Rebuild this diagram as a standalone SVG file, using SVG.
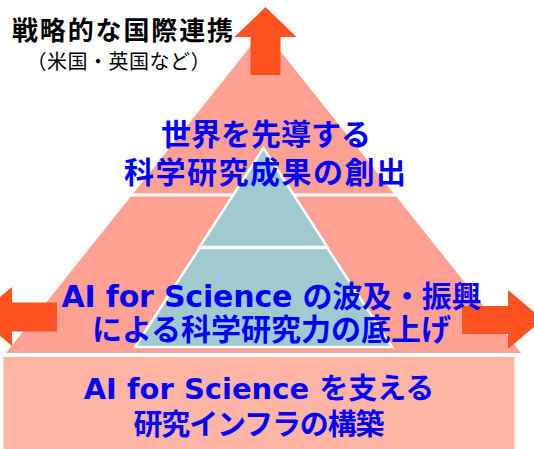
<svg xmlns="http://www.w3.org/2000/svg" width="534" height="449" viewBox="0 0 534 449">
<style>
.t{font-family:'DejaVu Sans','Noto Sans CJK JP',sans-serif;font-weight:bold;fill:#0000FF;text-anchor:middle}
.j{font-family:'Noto Sans CJK JP',sans-serif;fill:#000;text-anchor:middle}
.arrow{fill:#FF5221}
.teal{fill:#A1CAD0;stroke:#fff;stroke-width:2.5;stroke-linejoin:miter}
</style>
<rect width="534" height="449" fill="#fff"/>
<g id="pyramid-outer">
<polygon points="263.5,30 6,353 521,353" fill="#FFA192"/>
<line x1="100" y1="195" x2="430" y2="195" stroke="#fff" stroke-width="3"/>
</g>
<g id="pyramid-inner">
<polygon class="teal" points="263.5,148 199.6,247 327.4,247"/>
<polygon class="teal" points="199.6,248 327.4,248 392,347 135,347"/>
</g>
<g id="base">
<rect x="3.5" y="357" width="511" height="92" fill="#FFB5A3"/>
</g>
<g id="connectors">
<polygon class="arrow" points="265.5,7 296.5,37 280.5,37 280.5,75 250.5,75 250.5,37 234.5,37"/>
<polygon class="arrow" points="-23,316.5 12,287 12,302.5 57,302.5 57,331.5 12,331.5 12,346"/>
<polygon class="arrow" points="543,319.5 508,290 508,306 462,306 462,334 508,334 508,349"/>
</g>
<g id="label-intl">
<text class="j" x="122.5" y="40" font-size="26" font-weight="bold" textLength="221" lengthAdjust="spacing">戦略的な国際連携</text>
<text class="j" x="118.5" y="69" font-size="20" textLength="184" lengthAdjust="spacing">（米国・英国など）</text>
</g>
<g id="level-top">
<text class="t" x="266" y="145" font-size="30">世界を先導する</text>
<text class="t" x="265" y="183" font-size="30" textLength="282" lengthAdjust="spacing">科学研究成果の創出</text>
</g>
<g id="level-mid">
<text class="t" x="271.5" y="306.5" font-size="30" textLength="420" lengthAdjust="spacing">AI for Science の波及・振興</text>
<text class="t" x="271.5" y="339.5" font-size="30">による科学研究力の底上げ</text>
</g>
<g id="level-base">
<text class="t" x="259" y="399" font-size="29">AI for Science を支える</text>
<text class="t" x="259" y="435" font-size="29" textLength="251" lengthAdjust="spacing">研究インフラの構築</text>
</g>
</svg>
